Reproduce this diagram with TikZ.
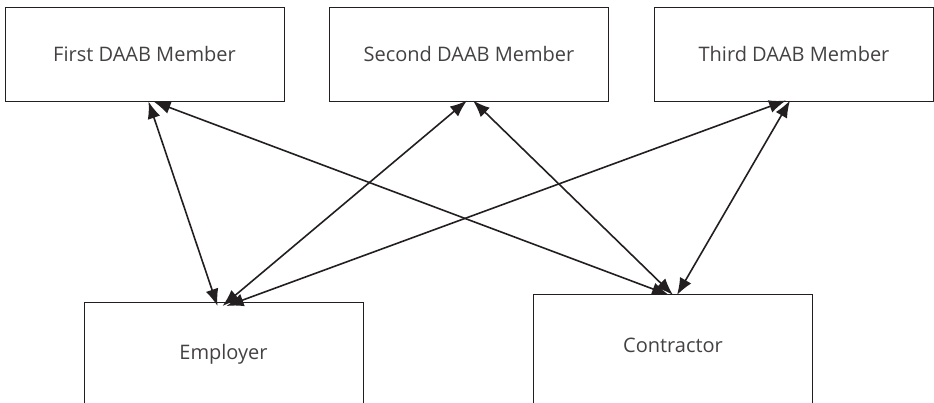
\documentclass[tikz,border=0pt]{standalone}
\usepackage{fontspec}
\setmainfont{Open Sans}
\usetikzlibrary{arrows.meta}
\definecolor{ink}{HTML}{231F20}
\begin{document}
\begin{tikzpicture}[x=1pt,y=-1pt,
  member/.style={draw=ink,line width=1pt,minimum width=279pt,minimum height=94pt,inner sep=0pt,font=\fontsize{20}{22}\selectfont,text=ink!85},
  party/.style={draw=ink,line width=1pt,minimum width=279pt,inner sep=0pt,anchor=north,text depth=70pt,font=\fontsize{20}{22}\selectfont,text=ink!85},
  link/.style={ink,line width=1.6pt,{Latex[length=17pt,width=13pt]}-{Latex[length=17pt,width=13pt]}}]
\useasboundingbox (0,0) rectangle (934,402);
\clip (0,0) rectangle (934,402);
\node[member] (first) at (144.5,54) {First DAAB Member};
\node[member] (second) at (469,54) {Second DAAB Member};
\node[member] (third) at (794,54) {Third DAAB Member};
\node[party,text height=57pt] (employer) at (223.5,302) {Employer};
\node[party,text height=58pt] (contractor) at (673,294) {Contractor};
\draw[link] ([xshift=4pt]first.south) -- ([xshift=-6pt,yshift=-4pt]employer.north);
\draw[link] ([xshift=9pt]first.south) -- ([xshift=-4pt,yshift=-1pt]contractor.north);
\draw[link] ([xshift=-2pt,yshift=1pt]second.south) -- ([xshift=-1pt,yshift=-4pt]employer.north);
\draw[link] ([xshift=4pt,yshift=1pt]second.south) -- ([xshift=0pt,yshift=-1pt]contractor.north);
\draw[link] ([xshift=-8pt,yshift=1pt]third.south) -- ([xshift=3pt,yshift=-4pt]employer.north);
\draw[link] ([xshift=-4pt,yshift=1pt]third.south) -- ([xshift=4pt,yshift=-1pt]contractor.north);
\end{tikzpicture}
\end{document}
